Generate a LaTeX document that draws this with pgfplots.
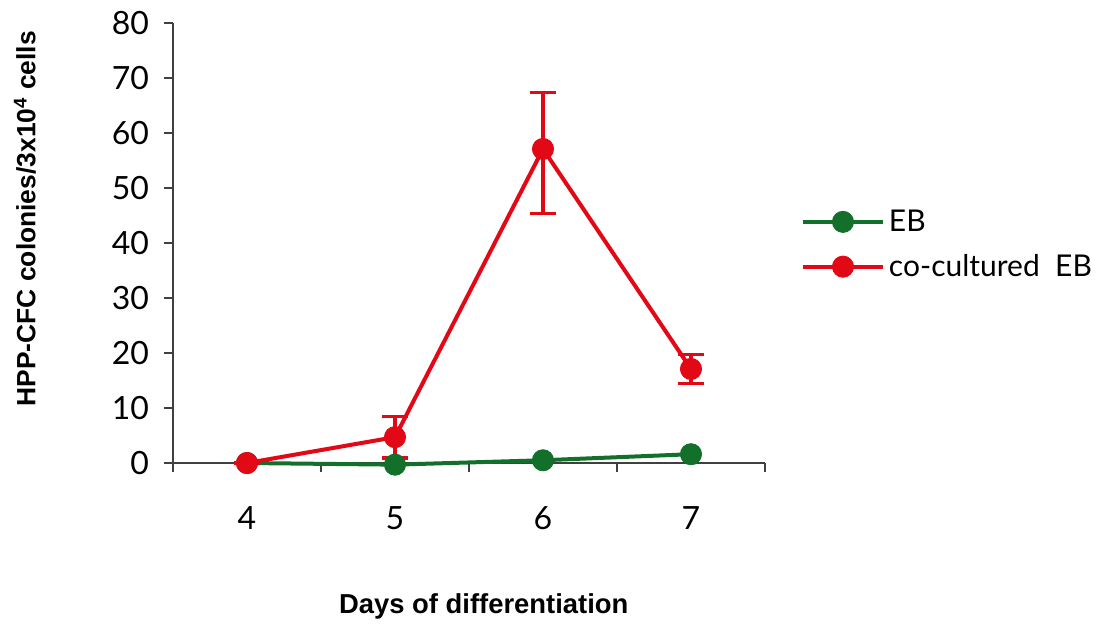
\documentclass[border=0pt]{standalone}
\usepackage{fontspec}
\setmainfont{Liberation Sans}
\newfontfamily\numfont{Lato}
\usepackage{pgfplots}
\pgfplotsset{compat=1.18}

\definecolor{ebgreen}{RGB}{18,112,42}
\definecolor{cored}{RGB}{226,8,22}

\begin{document}
\begin{tikzpicture}
\useasboundingbox (-86.5pt,-82.5pt) rectangle (470.5pt,231.5pt);
\begin{axis}[
  at={(0,0)}, anchor=origin,
  scale only axis,
  width=296pt, height=220pt,
  xmin=3.5, xmax=7.5,
  ymin=0, ymax=80,
  clip=false,
  axis x line=bottom, axis y line=left,
  axis line style={-, line width=0.6pt, black!75},
  xtick={4,5,6,7},
  minor xtick={3.5,4.5,5.5,6.5,7.5},
  major x tick style={draw=none},
  minor x tick style={line width=0.6pt, black!75},
  ytick={0,10,...,80},
  y tick style={line width=0.6pt, black!75},
  tick align=outside,
  major tick length=4.5pt,
  minor tick length=4.5pt,
  /pgf/number format/assume math mode=true,
  tick label style={font=\numfont\fontsize{16}{18}\selectfont},
  yticklabel style={xshift=-4pt},
  xticklabel style={yshift=-13.5pt},
  xlabel={Days of differentiation},
  ylabel={HPP-CFC colonies/3x10\textsuperscript{4} cells},
  xlabel style={at={(axis description cs:0.525,-0.327)}, anchor=center,
    font=\bfseries\fontsize{13.7}{16}\selectfont},
  ylabel style={at={(axis description cs:-0.25,0.555)}, anchor=center, rotate=0,
    font=\bfseries\fontsize{13.2}{16}\selectfont},
  legend style={at={(axis description cs:1.050,0.595)}, anchor=north west,
    draw=none, fill=none, font=\numfont\fontsize{15}{17}\selectfont,
    row sep=6pt, /tikz/every even column/.append style={column sep=2pt}},
  legend cell align=left,
  legend image code/.code={
    \draw[#1, mark repeat=2, mark phase=2] plot coordinates {(0pt,0pt) (20pt,0pt) (40pt,0pt)};
  },
]
% EB alone
\addplot[ebgreen, line width=2pt, mark=*, mark size=5.3pt,
  mark options={fill=ebgreen, draw=ebgreen, line width=0.4pt}]
  coordinates {(4,0) (5,-0.3) (6,0.5) (7,1.6)};
\addlegendentry{EB}
% co-cultured EB with error bars
\addplot[cored, line width=2pt, mark=*, mark size=5.3pt,
  mark options={fill=cored, draw=cored, line width=0.4pt},
  error bars/.cd, y dir=both, y explicit,
  error bar style={line width=1.6pt, cored},
  error mark options={rotate=90, mark size=6.7pt, line width=1.6pt, cored}]
  coordinates {
    (4,0) += (0,0) -= (0,0)
    (5,4.7) += (0,3.8) -= (0,3.8)
    (6,57.1) += (0,10.3) -= (0,11.8)
    (7,17.1) += (0,2.7) -= (0,2.7)
  };
\addlegendentry{co-cultured\ \ EB}
\end{axis}
\end{tikzpicture}
\end{document}
